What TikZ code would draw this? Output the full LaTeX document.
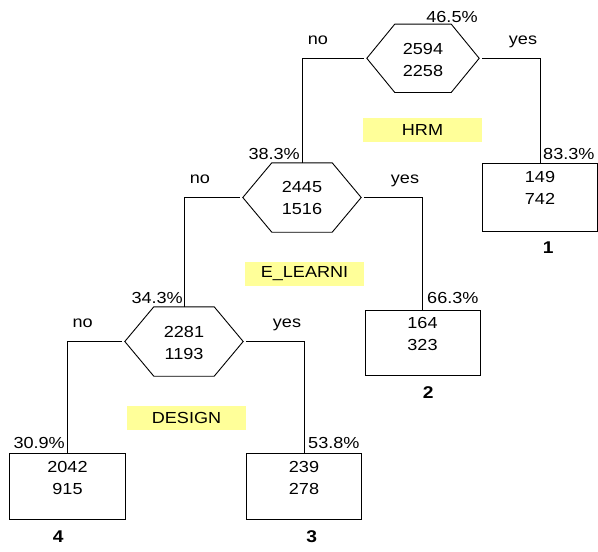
\documentclass[tikz,border=0pt]{standalone}
\usepackage{fontspec}
\setmainfont{Liberation Sans}[FakeStretch=1.13]
\definecolor{splitfill}{RGB}{255,255,153}
% outline of a split node: a hexagon cut into the node's bounding box
\newcommand\hexoutline[2]{%
  \draw[line width=0.9pt] (#1.west) -- ([xshift=#2]#1.north west)
    -- ([xshift=-#2]#1.north east) -- (#1.east)
    -- ([xshift=-#2]#1.south east) -- ([xshift=#2]#1.south west) -- cycle;}
\begin{document}
\begin{tikzpicture}[x=1pt,y=-1pt,
  every node/.style={font=\fontsize{16}{22}\selectfont},
  edge/.style={line width=0.9pt, shorten <=3pt},
  hexcell/.style={inner sep=0pt},
  leafbox/.style={draw, line width=0.9pt, inner sep=0pt},
  counts/.style={align=center, inner sep=0pt},
  pct/.style={inner sep=0pt},
  branch/.style={inner sep=0pt, anchor=base},
  splitvar/.style={fill=splitfill, minimum width=119pt, minimum height=24pt, inner sep=0pt},
  leafid/.style={font=\fontsize{17}{20}\selectfont\bfseries, inner sep=0pt, anchor=base}
]
\useasboundingbox (0,0) rectangle (598,552);

% split nodes
\node[hexcell, minimum width=112pt, minimum height=68pt] (h1) at (423,58.3) {};
\node[hexcell, minimum width=118pt, minimum height=69pt] (h2) at (302,197.5) {};
\node[hexcell, minimum width=118pt, minimum height=69pt] (h3) at (184,341.5) {};
\hexoutline{h1}{28pt}
\hexoutline{h2}{29pt}
\hexoutline{h3}{29pt}
\node[counts] (h1n) at ([yshift=-2pt]h1.center) {2594\\2258};
\node[counts] (h2n) at ([yshift=-0.5pt]h2.center) {2445\\1516};
\node[counts] (h3n) at ([yshift=-1pt]h3.center) {2281\\1193};

% leaves
\node[leafbox, minimum width=115.4pt, minimum height=67.7pt] (b1) at (540,197.2) {};
\node[leafbox, minimum width=115pt, minimum height=65pt] (b2) at (422.5,342.5) {};
\node[leafbox, minimum width=115pt, minimum height=65.7pt] (b3) at (304,486.2) {};
\node[leafbox, minimum width=116pt, minimum height=65.7pt] (b4) at (67.5,486.2) {};
\node[counts, anchor=north] (b1n) at ([yshift=-8.5pt]b1.north) {149\\742};
\node[counts, anchor=north] (b2n) at ([yshift=-7.5pt]b2.north) {164\\323};
\node[counts, anchor=north] (b3n) at ([yshift=-8pt]b3.north) {239\\278};
\node[counts, anchor=north] (b4n) at ([yshift=-8pt]b4.north) {2042\\915};

% connectors
\draw[edge] (h1.west) -| (h2.north);
\draw[edge] (h1.east) -| (b1.north);
\draw[edge] (h2.west) -| (h3.north);
\draw[edge] (h2.east) -| (b2.north);
\draw[edge] (h3.west) -| (b4.north);
\draw[edge] (h3.east) -| (b3.north);

% branch labels
\node[branch] (n1) at (318,44) {no};
\node[branch] (y1) at (523,44) {yes};
\node[branch] (n2) at (200,183) {no};
\node[branch] (y2) at (405,183) {yes};
\node[branch] (n3) at (82.7,327) {no};
\node[branch] (y3) at (287,327) {yes};

% node shares
\node[pct, anchor=base] (p1) at (452,22) {46.5\%};
\node[pct, anchor=base east] (p2) at (300,159) {38.3\%};
\node[pct, anchor=base east] (p3) at (183,303.3) {34.3\%};
\node[pct, anchor=base west] (p4) at (543,159) {83.3\%};
\node[pct, anchor=base west] (p5) at (427,303) {66.3\%};
\node[pct, anchor=base west] (p6) at (308,448) {53.8\%};
\node[pct, anchor=base east] (p7) at (65,448) {30.9\%};

% split variables
\node[splitvar] (v1) at (422.5,130) {HRM};
\node[splitvar] (v2) at (304.5,274) {E\_LEARNI};
\node[splitvar] (v3) at (186.5,417.7) {DESIGN};

% leaf numbers
\node[leafid] (l1) at (548.3,253) {1};
\node[leafid] (l2) at (428.3,398.3) {2};
\node[leafid] (l3) at (311.7,542) {3};
\node[leafid] (l4) at (58.3,542.7) {4};
\end{tikzpicture}
\end{document}
